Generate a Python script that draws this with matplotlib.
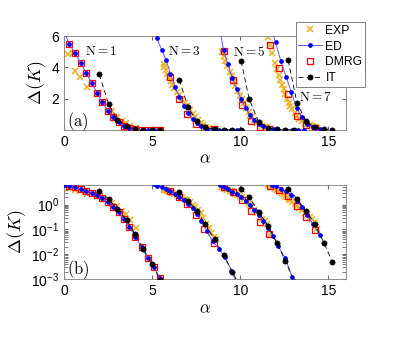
import matplotlib
matplotlib.use('Agg')
import matplotlib.pyplot as plt

plt.rcParams['font.family'] = ['Liberation Sans', 'DejaVu Sans']
plt.rcParams['mathtext.fontset'] = 'cm'

# ---- data (alpha, Delta(K)) ----
# N = 1
exp1_a = [0.25, 0.5, 0.65, 0.9, 1.3, 1.85, 2.2, 2.7, 3.0, 3.3, 3.5, 3.75, 4.1]
exp1_d = [4.85, 4.9, 3.75, 3.4, 2.75, 2.27, 1.75, 1.2, 0.85, 0.57, 0.42, 0.25, 0.11]
ed1_a = [0.0, 0.3, 0.63, 0.95, 1.25, 1.57, 1.87, 2.17, 2.47, 2.78, 3.1, 3.4, 3.7,
         4.05, 4.4, 4.75, 5.1, 5.45]
ed1_d = [6.3, 5.5, 4.9, 4.28, 3.64, 3.0, 2.38, 1.79, 1.22, 0.80, 0.49, 0.27, 0.13,
         0.052, 0.019, 0.0072, 0.003, 0.0011]
dmrg1_a = [0.3, 0.63, 0.95, 1.25, 1.57, 1.87, 2.17, 2.47, 2.78, 3.1, 3.4, 3.7,
           4.05, 4.4, 4.75, 5.1, 5.45]
dmrg1_d = [5.5, 4.9, 4.28, 3.64, 3.0, 2.38, 1.79, 1.22, 0.80, 0.49, 0.27, 0.13,
           0.052, 0.019, 0.0072, 0.003, 0.0011]
it1_a = [2.0, 2.54, 3.03, 3.56, 4.03, 4.5, 5.0, 5.45]
it1_d = [3.55, 1.63, 0.65, 0.24, 0.063, 0.016, 0.0042, 0.0009]

# N = 3
exp3_a = [5.65, 5.7, 5.78, 5.85, 5.95, 6.05, 6.15, 6.25, 6.4, 6.55, 6.7, 6.85,
          7.0, 7.15, 7.3, 7.45, 7.6, 7.75, 7.9, 8.05, 8.2, 8.35, 8.5, 8.6]
exp3_d = [4.2, 4.0, 3.85, 3.6, 3.35, 3.1, 2.9, 2.7, 2.45, 2.2, 1.95, 1.7,
          1.5, 1.25, 1.0, 0.8, 0.6, 0.45, 0.3, 0.17, 0.11, 0.07, 0.05, 0.04]
ed3_a = [5.1, 5.27, 5.55, 5.8, 6.04, 6.3, 6.55, 6.8, 7.05, 7.3, 7.55, 7.8, 8.1,
         8.45, 8.8, 9.15, 9.5, 9.8, 10.1]
ed3_d = [6.5, 5.85, 5.1, 4.45, 3.6, 2.75, 2.1, 1.55, 1.08, 0.7, 0.42, 0.22, 0.085,
         0.033, 0.016, 0.0075, 0.0022, 0.0007, 0.0003]
dmrg3_a = [6.03, 6.5, 6.97, 7.47, 7.97, 8.49]
dmrg3_d = [3.4, 2.0, 1.02, 0.4, 0.1, 0.028]
it3_a = [6.55, 7.03, 7.54, 8.01, 8.54, 9.05, 9.55, 10.05]
it3_d = [3.2, 1.45, 0.55, 0.16, 0.04, 0.009, 0.002, 0.0004]

# N = 5
exp5_a = [8.96, 9.05, 9.15, 9.24, 9.4, 9.53, 9.62, 9.72, 9.85, 10.0, 10.1, 10.19,
          10.33, 10.47, 10.56, 10.66, 10.8, 10.95, 11.1, 11.23, 11.38, 11.52, 11.7]
exp5_d = [5.0, 4.7, 4.4, 4.06, 3.7, 3.43, 3.1, 2.8, 2.5, 2.17, 1.95, 1.75,
          1.4, 1.12, 0.95, 0.8, 0.6, 0.44, 0.35, 0.27, 0.21, 0.17, 0.06]
ed5_a = [8.85, 9.05, 9.3, 9.55, 9.8, 10.05, 10.3, 10.55, 10.8, 11.05, 11.3,
         11.55, 11.85, 12.15, 12.55, 12.95, 13.3, 13.6]
ed5_d = [6.4, 5.1, 4.2, 3.3, 2.6, 1.95, 1.4, 0.95, 0.62, 0.38, 0.22, 0.12,
         0.055, 0.022, 0.007, 0.0012, 0.0003, 0.0001]
dmrg5_a = [9.05, 9.58, 10.1, 10.6, 11.14, 11.65]
dmrg5_d = [5.07, 3.22, 1.6, 0.58, 0.2, 0.068]
it5_a = [10.05, 10.5, 11.04, 11.57, 12.08, 12.56, 13.05]
it5_d = [4.4, 2.0, 0.52, 0.14, 0.029, 0.0054, 0.0008]

# N = 7
exp7_a = [11.55, 11.7, 11.8, 11.99, 12.08, 12.18, 12.27, 12.37, 12.46, 12.56,
          12.65, 12.74, 12.84, 12.94, 13.08, 13.22, 13.36, 13.5, 13.65, 13.79,
          13.93, 14.07, 14.22, 14.36]
exp7_d = [5.96, 5.43, 4.9, 4.28, 3.9, 3.54, 3.2, 2.9, 2.6, 2.27, 2.0, 1.75,
          1.55, 1.33, 1.1, 0.9, 0.72, 0.59, 0.47, 0.38, 0.32, 0.27, 0.2, 0.1]
ed7_a = [11.8, 12.0, 12.3, 12.6, 12.9, 13.2, 13.5, 13.8, 14.1, 14.5]
ed7_d = [6.3, 5.6, 4.4, 3.4, 2.4, 1.4, 0.8, 0.4, 0.17, 0.06]
dmrg7_a = [11.7, 12.2, 12.72, 13.22, 13.74, 14.22]
dmrg7_d = [5.43, 3.95, 2.3, 0.9, 0.31, 0.097]
it7_a = [12.72, 13.22, 13.73, 14.22, 14.75, 15.22]
it7_d = [4.44, 1.72, 0.55, 0.17, 0.029, 0.005]

exp_sets = [(exp1_a, exp1_d), (exp3_a, exp3_d), (exp5_a, exp5_d), (exp7_a, exp7_d)]
ed_sets = [(ed1_a, ed1_d), (ed3_a, ed3_d), (ed5_a, ed5_d), (ed7_a, ed7_d)]
dmrg_sets = [(dmrg1_a, dmrg1_d), (dmrg3_a, dmrg3_d), (dmrg5_a, dmrg5_d), (dmrg7_a, dmrg7_d)]
it_sets = [(it1_a, it1_d), (it3_a, it3_d), (it5_a, it5_d), (it7_a, it7_d)]

n_labels = ['N = 1', 'N = 3', 'N = 5', 'N = 7']
n_pos = [(1.2, 5.0), (5.9, 5.0), (9.6, 5.0), (13.35, 2.08)]

EXP_C = '#EDB120'


def draw(ax):
    h = []
    for i in range(4):
        a, d = exp_sets[i]
        l1, = ax.plot(a, d, 'x', color=EXP_C, ms=3.8, mew=1.1, zorder=2)
        a, d = ed_sets[i]
        l2, = ax.plot(a, d, '-', color='#5c5cff', lw=0.7, marker='o', ms=2.4,
                      mfc='b', mec='b', zorder=4)
        a, d = dmrg_sets[i]
        l3, = ax.plot(a, d, 's', mfc='none', mec='red', ms=4.8, mew=0.9, zorder=3)
        a, d = it_sets[i]
        l4, = ax.plot(a, d, '--', color='k', lw=0.6, marker='o', ms=3.8,
                      mew=0.4, mfc='k', mec='k', dashes=(6, 4), zorder=5)
        if i == 0:
            h = [l1, l2, l3, l4]
    ax.set_xlim(0, 16)
    ax.set_xticks([0, 5, 10, 15])
    ax.tick_params(direction='in', top=True, right=True, labelsize=10,
                   length=3, color='0.4', which='both')
    for s in ax.spines.values():
        s.set_color('0.55')
        s.set_linewidth(0.7)
    ax.set_xlabel(r'$\alpha$', fontsize=12, labelpad=2)
    ax.set_ylabel(r'$\Delta(K)$', fontsize=13, labelpad=2)
    return h


fig = plt.figure(figsize=(3.95, 3.4), dpi=100)
ax1 = fig.add_axes([0.162, 0.618, 0.714, 0.276])
ax2 = fig.add_axes([0.162, 0.179, 0.714, 0.277])

handles = draw(ax1)
ax1.set_ylim(0, 6)
ax1.set_yticks([2, 4, 6])
for lab, (x, y) in zip(n_labels, n_pos):
    n, v = lab.split(' = ')
    ax1.text(x, y, r'$\mathrm{' + n + '}=' + v + '$', fontsize=9.5,
             va='center', ha='left')
ax1.text(0.01, 0.09, r'$\mathrm{(a)}$', transform=ax1.transAxes, fontsize=12,
         va='center')

draw(ax2)
ax2.set_yscale('log')
ax2.set_ylim(1e-3, 6.2)
ax2.set_yticks([1e-3, 1e-2, 1e-1, 1e0])
ax2.text(0.01, 0.1, r'$\mathrm{(b)}$', transform=ax2.transAxes, fontsize=12,
         va='center')

leg = fig.legend(handles, ['EXP', 'ED', 'DMRG', 'IT'], loc='upper left',
                 bbox_to_anchor=(0.749, 0.935), fontsize=8.7, fancybox=False,
                 framealpha=1, edgecolor='0.5', handlelength=2.0,
                 labelspacing=0.33, borderpad=0.2, handletextpad=0.25,
                 borderaxespad=0)
leg.get_frame().set_linewidth(0.7)

fig.savefig('out.png', dpi=100)
